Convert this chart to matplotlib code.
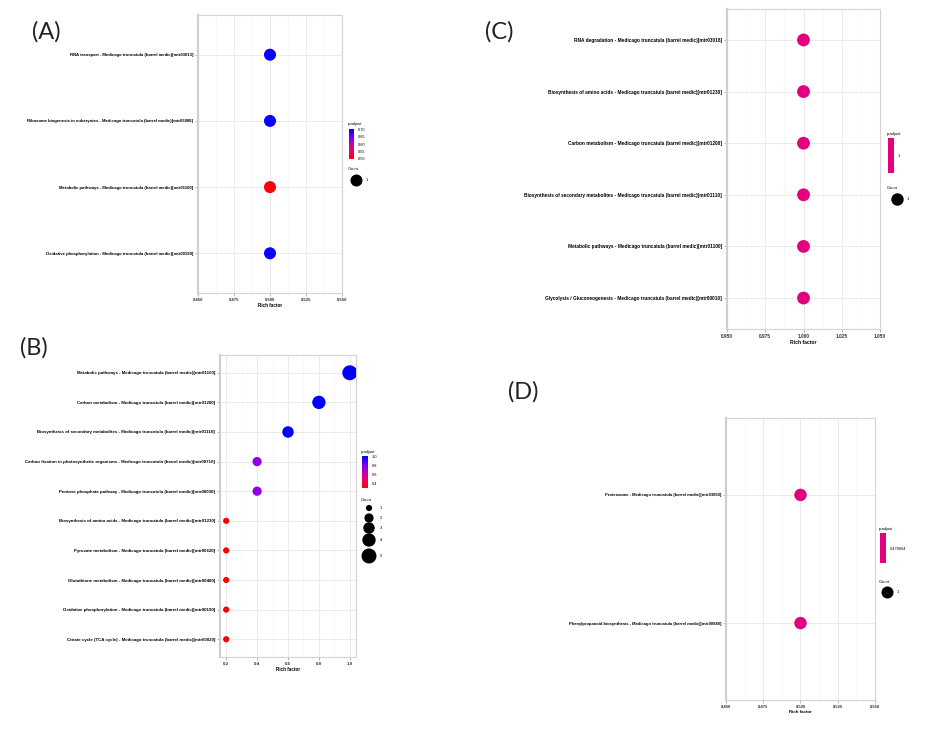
import numpy as np
import matplotlib.pyplot as plt
from matplotlib.colors import LinearSegmentedColormap, ListedColormap, Normalize
from matplotlib.colorbar import ColorbarBase

W, H = 928, 731
ORG = " - Medicago truncatula (barrel medic)"

# panel A
a_terms = ["RNA transport", "Ribosome biogenesis in eukaryotes",
           "Metabolic pathways", "Oxidative phosphorylation"]
a_ids = ["mtr03013", "mtr03008", "mtr01100", "mtr00190"]
a_rich = [0.5, 0.5, 0.5, 0.5]
a_padj = [0.70, 0.70, 0.50, 0.70]
a_count = [1, 1, 1, 1]
a_xticks = [0.450, 0.475, 0.500, 0.525, 0.550]
a_cbar = [0.70, 0.65, 0.60, 0.55, 0.50]

# panel B
b_terms = ["Metabolic pathways", "Carbon metabolism",
           "Biosynthesis of secondary metabolites",
           "Carbon fixation in photosynthetic organisms",
           "Pentose phosphate pathway", "Biosynthesis of amino acids",
           "Pyruvate metabolism", "Glutathione metabolism",
           "Oxidative phosphorylation", "Citrate cycle (TCA cycle)"]
b_ids = ["mtr01100", "mtr01200", "mtr01110", "mtr00710", "mtr00030",
         "mtr01230", "mtr00620", "mtr00480", "mtr00190", "mtr00020"]
b_rich = [1.0, 0.8, 0.6, 0.4, 0.4, 0.2, 0.2, 0.2, 0.2, 0.2]
b_padj = [1.0, 1.0, 1.0, 0.75, 0.75, 0.29, 0.29, 0.29, 0.29, 0.29]
b_count = [5, 4, 3, 2, 2, 1, 1, 1, 1, 1]
b_xticks = [0.2, 0.4, 0.6, 0.8, 1.0]
b_cbar = [1.0, 0.8, 0.6, 0.4]

# panel C
c_terms = ["RNA degradation", "Biosynthesis of amino acids", "Carbon metabolism",
           "Biosynthesis of secondary metabolites", "Metabolic pathways",
           "Glycolysis / Gluconeogenesis"]
c_ids = ["mtr03018", "mtr01230", "mtr01200", "mtr01110", "mtr01100", "mtr00010"]
c_rich = [1.0, 1.0, 1.0, 1.0, 1.0, 1.0]
c_count = [1, 1, 1, 1, 1, 1]
c_xticks = [0.950, 0.975, 1.000, 1.025, 1.050]

# panel D
d_terms = ["Proteasome", "Phenylpropanoid biosynthesis"]
d_ids = ["mtr03050", "mtr00940"]
d_rich = [0.5, 0.5]
d_count = [1, 1]
d_xticks = [0.450, 0.475, 0.500, 0.525, 0.550]

cmap = LinearSegmentedColormap.from_list("padj", ["#ff0000", "#e6007e", "#8c00e6", "#0000ff"])
MID = "#e3007f"

fig = plt.figure(figsize=(W / 100, H / 100), dpi=100)
fig.patch.set_facecolor("white")


def px_rect(l, t, r, b):
    return [l / W, 1 - b / H, (r - l) / W, (b - t) / H]


def panel(rect, terms, ids, rich, counts, colors, sizes, xticks, xlim, fs):
    ax = fig.add_axes(px_rect(*rect))
    n = len(terms)
    y = np.arange(n)
    ax.scatter(rich, y, s=sizes, c=colors, zorder=3, linewidths=0)
    ax.set_ylim(n - 0.4, -0.6)
    ax.set_xlim(*xlim)
    ax.set_yticks(y)
    ax.set_yticklabels([t + ORG + "[" + i + "]" for t, i in zip(terms, ids)],
                       fontsize=fs, fontweight="bold", family="Liberation Sans")
    ax.set_xticks(xticks)
    ax.set_xticklabels([f"{v:.3f}" if xticks[0] > 0.3 else f"{v:.1f}" for v in xticks],
                       fontsize=fs, fontweight="bold", family="Liberation Sans", color="#333333")
    mids = [(a + b) / 2 for a, b in zip(xticks[:-1], xticks[1:])]
    ax.set_xticks(mids, minor=True)
    ax.grid(True, which="major", color="#e8e8e8", lw=0.6)
    ax.grid(True, which="minor", axis="x", color="#f1f1f1", lw=0.4)
    ax.set_axisbelow(True)
    ax.tick_params(which="major", length=2, width=0.5, color="#999999", pad=1.5)
    ax.tick_params(which="minor", length=0)
    for sp in ax.spines.values():
        sp.set_color("#d4d4d4")
        sp.set_linewidth(0.8)
    ax.spines["left"].set_linewidth(1.6)
    ax.spines["left"].set_color("#cfcfcf")
    ax.set_xlabel("Rich factor", fontsize=fs + 0.2, fontweight="bold",
                  family="Liberation Sans", labelpad=1)
    return ax


norm_a = Normalize(0.495, 0.705)
panel((198, 15, 342, 293), a_terms, a_ids, a_rich, a_count,
      cmap(norm_a(a_padj)), [75] * 4, a_xticks, (0.45, 0.55), 3.1)

norm_b = Normalize(0.29, 1.0)
b_sizes = [20 + (c - 1) * 24 for c in b_count]
panel((220, 355, 356, 657), b_terms, b_ids, b_rich, b_count,
      cmap(norm_b(b_padj)), b_sizes, b_xticks, (0.16, 1.04), 3.12)

panel((727, 9, 880, 329), c_terms, c_ids, c_rich, c_count,
      [MID] * 6, [85] * 6, c_xticks, (0.95, 1.05), 3.45)

panel((726, 418, 875, 700), d_terms, d_ids, d_rich, d_count,
      [MID] * 2, [80] * 2, d_xticks, (0.45, 0.55), 3.0)


def cbar(rect, cm, norm, ticks, labels):
    cax = fig.add_axes(px_rect(*rect))
    cb = ColorbarBase(cax, cmap=cm, norm=norm, orientation="vertical")
    cb.outline.set_visible(False)
    cb.set_ticks(ticks)
    cb.set_ticklabels(labels)
    cax.tick_params(labelsize=2.8, length=1.5, width=0.4, color="white", pad=1.5)
    for t in cax.get_yticklabels():
        t.set_family("Liberation Sans")
    return cax


cbar((349, 129, 354, 159), cmap, norm_a, a_cbar, [f"{v:.2f}" for v in a_cbar])
cbar((362, 456, 368, 488), cmap, norm_b, b_cbar, [f"{v:.1f}" for v in b_cbar])
cbar((888, 138, 894, 173), ListedColormap([MID]), Normalize(0.5, 1.5), [1.0], ["1"])
cbar((880, 533, 886, 563), ListedColormap([MID]), Normalize(0.5, 1.5), [1.0], ["0.478964"])

# overlay in pixel coordinates for legend titles, count keys and panel letters
ov = fig.add_axes([0, 0, 1, 1])
ov.set_xlim(0, W)
ov.set_ylim(H, 0)
ov.axis("off")
ov.patch.set_alpha(0)

lt = dict(fontsize=3.0, family="Liberation Sans", va="center", ha="left")
for x, y in [(348, 124), (361, 452), (887, 134), (879, 529)]:
    ov.text(x, y, "p.adjust", **lt)
for x, y in [(348, 169), (361, 500), (887, 188), (879, 582)]:
    ov.text(x, y, "Count", **lt)

# count keys
a_key = [1]
ov.scatter([356] * len(a_key), [180], s=75, c="black", linewidths=0)
ov.text(366, 180, "1", **lt)

b_key = [1, 2, 3, 4, 5]
b_key_y = [508, 518, 528, 540, 556]
ov.scatter([369] * 5, b_key_y, s=[20 + (c - 1) * 24 for c in b_key], c="black", linewidths=0)
for c, y in zip(b_key, b_key_y):
    ov.text(380, y, str(c), **lt)

ov.scatter([897], [199], s=80, c="black", linewidths=0)
ov.text(907, 199, "1", **lt)
ov.scatter([887], [592], s=75, c="black", linewidths=0)
ov.text(897, 592, "1", **lt)

for lab, x, y in [("(A)", 46, 32), ("(B)", 34, 348), ("(C)", 499, 32), ("(D)", 523, 392)]:
    ov.text(x, y, lab, fontsize=17, family="Lato", ha="center", va="center", color="#222222")

fig.savefig("out.png", dpi=100, facecolor="white")
